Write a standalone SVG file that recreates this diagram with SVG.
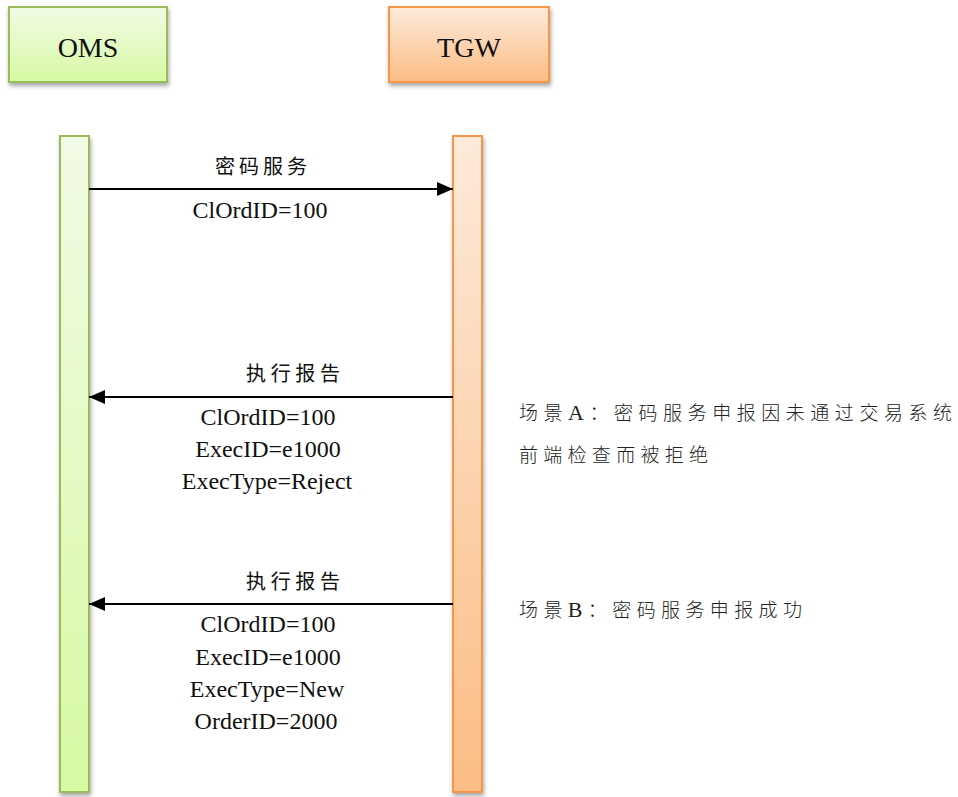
<svg xmlns="http://www.w3.org/2000/svg" width="958" height="797" viewBox="0 0 958 797">
<style>
.en{font-family:"Liberation Serif","Noto Sans CJK SC",serif;font-size:24px;fill:#111;text-anchor:middle}
.hd{font-family:"Liberation Serif",serif;font-size:28px;fill:#111;text-anchor:middle}
.cn{font-family:"Noto Sans CJK SC","Liberation Serif",serif;font-size:19px;fill:#222;font-weight:300}
.lb{font-family:"Noto Sans CJK SC","Liberation Serif",serif;font-size:20px;fill:#111;font-weight:400}
.lat{font-family:"Liberation Serif",serif;font-size:22px}
.conn{stroke:#000;stroke-width:2;fill:none;marker-end:url(#ah)}
</style>
<defs>
<linearGradient id="gG" x1="0" y1="0" x2="0" y2="1"><stop offset="0" stop-color="#f2fbe6"/><stop offset="1" stop-color="#d6f9a2"/></linearGradient>
<linearGradient id="gO" x1="0" y1="0" x2="0" y2="1"><stop offset="0" stop-color="#fdeadb"/><stop offset="1" stop-color="#fbbd84"/></linearGradient>
<filter id="sh" x="-20%" y="-20%" width="140%" height="140%"><feDropShadow dx="1" dy="3" stdDeviation="2" flood-color="#000" flood-opacity="0.35"/></filter>
<marker id="ah" viewBox="0 0 16 14" refX="16" refY="7" markerWidth="16" markerHeight="14" markerUnits="userSpaceOnUse" orient="auto"><path d="M0,0 L16,7 L0,14 z" fill="#000"/></marker>
</defs>
<g id="oms-head"><rect x="9" y="7" width="158" height="75" fill="url(#gG)" stroke="#9bbb59" stroke-width="2" filter="url(#sh)"/><text class="hd" x="88" y="57">OMS</text></g>
<g id="tgw-head"><rect x="389" y="7" width="160" height="75" fill="url(#gO)" stroke="#f79646" stroke-width="2" filter="url(#sh)"/><text class="hd" x="469" y="57">TGW</text></g>
<g id="oms-life"><rect x="60" y="136" width="29" height="656" fill="url(#gG)" stroke="#9bbb59" stroke-width="2" filter="url(#sh)"/></g>
<g id="tgw-life"><rect x="453" y="136" width="29" height="656" fill="url(#gO)" stroke="#f79646" stroke-width="2" filter="url(#sh)"/></g>
<g id="connectors">
<line class="conn" x1="89" y1="189" x2="453" y2="189"/>
<line class="conn" x1="453" y1="397" x2="89" y2="397"/>
<line class="conn" x1="453" y1="604" x2="89" y2="604"/>
</g>
<g id="msg1-labels">
<text class="lb" x="215" y="174" textLength="92" lengthAdjust="spacing">密码服务</text>
<text class="en" x="260" y="218">ClOrdID=100</text>
</g>
<g id="msg2-labels">
<text class="lb" x="246" y="381" textLength="94" lengthAdjust="spacing">执行报告</text>
<text class="en" x="268" y="425">ClOrdID=100</text>
<text class="en" x="268" y="457">ExecID=e1000</text>
<text class="en" x="267" y="489">ExecType=Reject</text>
</g>
<g id="msg3-labels">
<text class="lb" x="246" y="589" textLength="94" lengthAdjust="spacing">执行报告</text>
<text class="en" x="268" y="632">ClOrdID=100</text>
<text class="en" x="268" y="665">ExecID=e1000</text>
<text class="en" x="267" y="697">ExecType=New</text>
<text class="en" x="266" y="729">OrderID=2000</text>
</g>
<g id="note-a">
<text class="cn" x="519" y="420" textLength="433" lengthAdjust="spacing">场景<tspan class="lat">A</tspan>：密码服务申报因未通过交易系统</text>
<text class="cn" x="519" y="462" textLength="189" lengthAdjust="spacing">前端检查而被拒绝</text>
</g>
<g id="note-b">
<text class="cn" x="519" y="617" textLength="283" lengthAdjust="spacing">场景<tspan class="lat">B</tspan>：密码服务申报成功</text>
</g>
</svg>
